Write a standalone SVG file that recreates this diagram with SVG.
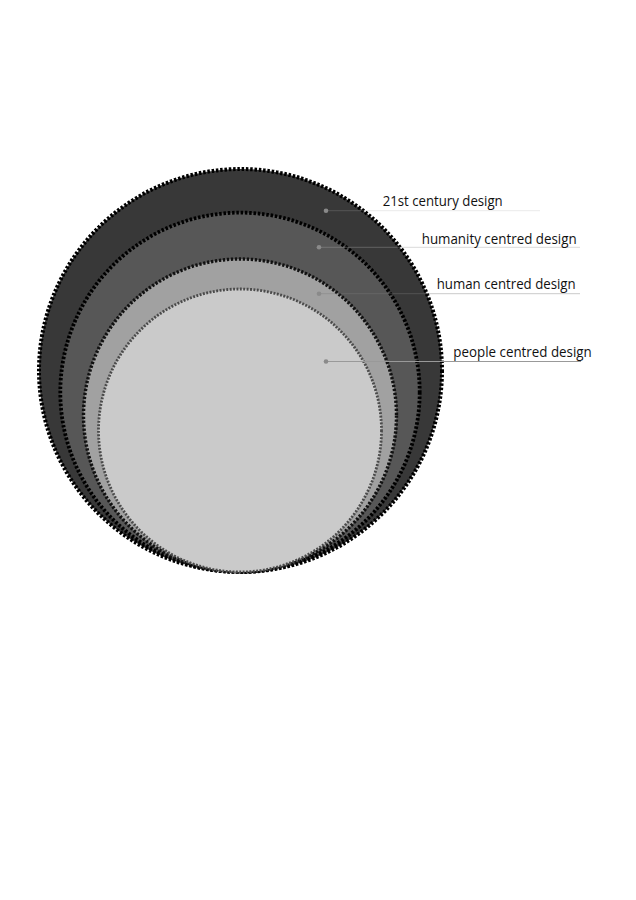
<svg xmlns="http://www.w3.org/2000/svg" width="636" height="900" viewBox="0 0 636 900">
<style>
.ring{stroke-linecap:butt}
.r1{fill:#383838;stroke:#000;stroke-width:4;stroke-dasharray:2.5 1.8}
.r2{fill:#575757;stroke:#000;stroke-width:3.8;stroke-dasharray:2.5 1.8}
.r3{fill:#a1a1a1;stroke:#111;stroke-width:3.4;stroke-dasharray:2.3 1.7}
.r4{fill:#cacaca;stroke:#4a4a4a;stroke-width:2.8;stroke-dasharray:1.9 1.5}
.lbl{font-family:"Open Sans","Liberation Sans",sans-serif;font-size:14px;fill:#111}
.dot{fill:#8a8a8a}
</style>
<rect width="636" height="900" fill="#fff"/>
<g id="node-21st-century-design">
<circle class="ring r1" cx="240.5" cy="370.5" r="201.5"/>
</g>
<g id="node-humanity-centred-design">
<circle class="ring r2" cx="240" cy="392.3" r="179.7"/>
</g>
<g id="node-human-centred-design">
<circle class="ring r3" cx="240" cy="415.5" r="156.5"/>
</g>
<g id="node-people-centred-design">
<circle class="ring r4" cx="240" cy="430.5" r="141.5"/>
</g>
<g id="connectors">
<line x1="326" y1="210.7" x2="540" y2="210.7" stroke="#b0b0b0" stroke-opacity="0.25" stroke-width="1"/>
<circle class="dot" cx="326" cy="210.7" r="2.3"/>
<line x1="319" y1="247.3" x2="580" y2="247.3" stroke="#a0a0a0" stroke-opacity="0.4" stroke-width="1"/>
<circle class="dot" cx="319" cy="247.3" r="2.3"/>
<line x1="319" y1="293.7" x2="580" y2="293.7" stroke="#777" stroke-opacity="0.4" stroke-width="1"/>
<circle class="dot" cx="319" cy="293.7" r="2.3"/>
<line x1="326" y1="361.5" x2="581" y2="361.5" stroke="#999" stroke-width="1"/>
<circle class="dot" cx="326" cy="361.5" r="2.3"/>
</g>
<g id="labels">
<text class="lbl" x="382.7" y="205.7" textLength="120" lengthAdjust="spacingAndGlyphs">21st century design</text>
<text class="lbl" x="421.7" y="244.3" textLength="155" lengthAdjust="spacingAndGlyphs">humanity centred design</text>
<text class="lbl" x="436.7" y="289.2" textLength="139" lengthAdjust="spacingAndGlyphs">human centred design</text>
<text class="lbl" x="453.3" y="356.7" textLength="138.5" lengthAdjust="spacingAndGlyphs">people centred design</text>
</g>
</svg>
